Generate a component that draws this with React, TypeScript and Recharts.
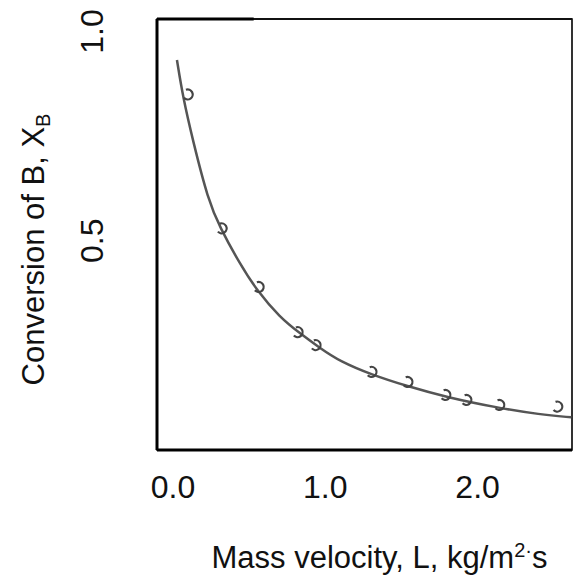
import { ComposedChart, Line, Scatter, XAxis, YAxis, ReferenceLine, ReferenceArea, Label } from "recharts";

// mass velocity L (kg/m2.s) vs conversion X_B
const curveL = [0.026, 0.066, 0.131, 0.23, 0.308, 0.439, 0.551, 0.702, 0.833, 0.964, 1.095, 1.311, 1.534, 1.797, 2.144, 2.407, 2.616];
const curveX = [0.932, 0.842, 0.739, 0.598, 0.532, 0.445, 0.381, 0.317, 0.279, 0.244, 0.212, 0.179, 0.153, 0.126, 0.1, 0.085, 0.078];

const pointL = [0.098, 0.321, 0.564, 0.82, 0.938, 1.305, 1.541, 1.79, 1.928, 2.144, 2.525];
const pointX = [0.849, 0.529, 0.389, 0.281, 0.25, 0.186, 0.162, 0.131, 0.119, 0.107, 0.103];

const xTicks = [0, 1, 2];
const yTicks = [0.5, 1.0];

const curve = curveL.map((x, i) => ({ x, y: curveX[i] }));
const points = pointL.map((x, i) => ({ x, y: pointX[i] }));

const X_MIN = -0.105;
const X_MAX = 2.62;
const Y_MAX = 1.03;

const FONT = "Liberation Sans, Arial, sans-serif";
const INK = "#555";

const XTick = ({ x, y, payload }: any) => (
  <text x={x} y={y} dy={48} textAnchor="middle" fontSize={32} fontFamily={FONT} fill="#111">
    {Number(payload.value).toFixed(1)}
  </text>
);

const YTick = ({ x, y, payload }: any) => (
  <text
    x={x - 54}
    y={y}
    transform={`rotate(-90, ${x - 54}, ${y})`}
    textAnchor="middle"
    fontSize={32}
    fontFamily={FONT}
    fill="#111"
  >
    {Number(payload.value).toFixed(1)}
  </text>
);

const Marker = ({ cx, cy }: any) => (
  <path
    d={`M${cx - 2},${cy - 5} A5 5 0 1 1 ${cx - 4},${cy + 3}`}
    fill="none"
    stroke="#444"
    strokeWidth={2.2}
  />
);

const XTitle = ({ viewBox }: any) => {
  const cx = viewBox.x + viewBox.width / 2 + 15;
  const by = viewBox.y + 118;
  return (
    <text x={cx} y={by} textAnchor="middle" fontSize={31} fontFamily={FONT} fill="#111">
      Mass velocity, L, kg/m
      <tspan fontSize={20} dy={-11}>2·</tspan>
      <tspan fontSize={31} dy={11}>s</tspan>
    </text>
  );
};

const YTitle = ({ viewBox }: any) => {
  const bx = 44;
  const cy = viewBox.y + viewBox.height / 2 + 15;
  return (
    <text
      x={bx}
      y={cy}
      transform={`rotate(-90, ${bx}, ${cy})`}
      textAnchor="middle"
      fontSize={31}
      fontFamily={FONT}
      fill="#111"
    >
      Conversion of B, X<tspan fontSize={20} dy={6}>B</tspan>
    </text>
  );
};

export default function App() {
  return (
    <div style={{ position: "absolute", left: 0, top: 0, background: "#fff" }}>
      <ComposedChart width={573} height={580} margin={{ top: 19, right: 1, left: 0, bottom: 0 }}>
        <XAxis
          xAxisId="b"
          type="number"
          dataKey="x"
          domain={[X_MIN, X_MAX]}
          ticks={xTicks}
          tick={<XTick />}
          tickLine={false}
          tickSize={0}
          tickMargin={0}
          height={130}
          axisLine={{ stroke: "#000", strokeWidth: 3 }}
          allowDataOverflow
        >
          <Label content={<XTitle />} />
        </XAxis>
        <YAxis
          yAxisId="l"
          type="number"
          dataKey="y"
          domain={[0, Y_MAX]}
          ticks={yTicks}
          tick={<YTick />}
          tickLine={false}
          tickSize={0}
          tickMargin={0}
          width={157}
          axisLine={{ stroke: "#000", strokeWidth: 3 }}
          allowDataOverflow
        >
          <Label content={<YTitle />} />
        </YAxis>
        <ReferenceArea
          xAxisId="b"
          yAxisId="l"
          x1={X_MIN}
          x2={X_MAX}
          y1={0}
          y2={Y_MAX}
          fill="none"
          stroke="#000"
          strokeWidth={1.6}
          strokeOpacity={1}
          ifOverflow="visible"
        />
        <ReferenceLine
          xAxisId="b"
          yAxisId="l"
          segment={[{ x: 0.5, y: Y_MAX }, { x: X_MAX, y: Y_MAX }]}
          stroke="#111"
          strokeWidth={2}
          ifOverflow="visible"
        />
        <ReferenceLine
          xAxisId="b"
          yAxisId="l"
          segment={[{ x: X_MIN, y: Y_MAX }, { x: 0.53, y: Y_MAX }]}
          stroke="#000"
          strokeWidth={3}
          ifOverflow="visible"
        />
        <Line
          xAxisId="b"
          yAxisId="l"
          data={curve}
          dataKey="y"
          type="basis"
          stroke={INK}
          strokeWidth={2.5}
          dot={false}
          isAnimationActive={false}
        />
        <Scatter
          xAxisId="b"
          yAxisId="l"
          data={points}
          dataKey="y"
          shape={<Marker />}
          isAnimationActive={false}
        />
      </ComposedChart>
    </div>
  );
}
